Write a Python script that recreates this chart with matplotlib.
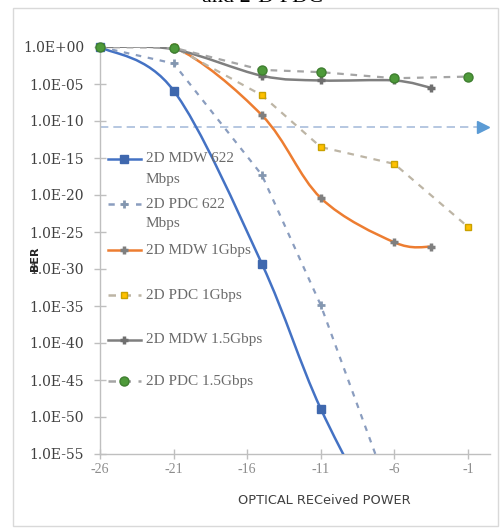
import numpy as np
import matplotlib
matplotlib.use('Agg')
import matplotlib.pyplot as plt
from matplotlib.path import Path
from matplotlib.patches import PathPatch, Rectangle
from matplotlib.lines import Line2D

# BER values (optical received power in dBm)
mdw622_x = [-26, -21, -15, -11, -6]
mdw622_y = [1e0, 1.3e-6, 5e-30, 1.3e-49, 1e-68]
pdc622_x = [-26, -21, -15, -11, -6]
pdc622_y = [1e0, 6e-3, 5e-18, 1.3e-35, 1e-62]
mdw1g_x = [-26, -21, -15, -11, -6, -3.5]
mdw1g_y = [1e0, 1e0, 6e-10, 4e-21, 4e-27, 1e-27]
pdc1g_x = [-26, -21, -15, -11, -6, -1]
pdc1g_y = [1e0, 1e0, 3e-7, 3e-14, 1.6e-16, 5e-25]
mdw15_x = [-26, -21, -15, -11, -6, -3.5]
mdw15_y = [1e0, 5e-1, 1.3e-4, 3e-5, 3e-5, 3e-6]
pdc15_x = [-26, -21, -15, -11, -6, -1]
pdc15_y = [1e0, 8e-1, 8e-4, 4e-4, 6e-5, 1e-4]
limit_x = [-26, 0]
limit_y = [1.6e-11, 1.6e-11]

ytick_vals = [1e0, 1e-5, 1e-10, 1e-15, 1e-20, 1e-25, 1e-30, 1e-35, 1e-40, 1e-45, 1e-50, 1e-55]
ytick_labels = ['1.0E+00', '1.0E-05', '1.0E-10', '1.0E-15', '1.0E-20', '1.0E-25',
                '1.0E-30', '1.0E-35', '1.0E-40', '1.0E-45', '1.0E-50', '1.0E-55']
xtick_vals = [-26, -21, -16, -11, -6, -1]
xtick_labels = ['-26', '-21', '-16', '-11', '-6', '-1']

W, H = 501, 529
YMIN, YMAX = 1e-55, 1e0


def fx(px):
    return px / W


def fy(py):
    return 1 - py / H


def smooth_path(xs, ys):
    # Excel-style smoothed line: Catmull-Rom Bezier in (x, log y) space
    pts = np.column_stack([np.asarray(xs, float), np.log10(ys)])
    n = len(pts)
    verts = [pts[0]]
    codes = [Path.MOVETO]
    for i in range(n - 1):
        p0 = pts[i - 1] if i > 0 else pts[i]
        p1, p2 = pts[i], pts[i + 1]
        p3 = pts[i + 2] if i + 2 < n else pts[i + 1]
        verts += [p1 + (p2 - p0) / 6, p2 - (p3 - p1) / 6, p2]
        codes += [Path.CURVE4] * 3
    verts = np.array(verts)
    verts[:, 1] = 10 ** verts[:, 1]
    return Path(verts, codes)


fig = plt.figure(figsize=(W / 100, H / 100), dpi=100)
fig.patch.set_facecolor('white')
fig.add_artist(Rectangle((fx(13), fy(526)), fx(485), 518 / H, transform=fig.transFigure,
                         fill=False, edgecolor='#D9D9D9', linewidth=1.0))

ax = fig.add_axes([fx(100), fy(454), fx(390), 407 / H])
ax.set_yscale('log')
ax.set_xlim(-26, 0.5)
ax.set_ylim(YMIN, YMAX)

series = [
    dict(x=mdw622_x, y=mdw622_y, color='#4472C4', ls='-', smooth=True,
         marker='s', mfc='#3F68AE', mec='#3F68AE', ms=5.5, mew=1, label='2D MDW 622\nMbps'),
    dict(x=pdc622_x, y=pdc622_y, color='#8A9DBF', ls=(0, (2.5, 3)), smooth=False,
         marker='+', mfc='#8497B0', mec='#8497B0', ms=6, mew=2, label='2D PDC 622\nMbps'),
    dict(x=mdw1g_x, y=mdw1g_y, color='#ED7D31', ls='-', smooth=True,
         marker='+', mfc='#7F7F7F', mec='#7F7F7F', ms=6, mew=2.5, label='2D MDW 1Gbps'),
    dict(x=pdc1g_x, y=pdc1g_y, color='#BDB5A5', ls=(0, (3, 3)), smooth=False,
         marker='s', mfc='#FFC000', mec='#C9A100', ms=5, mew=1, label='2D PDC 1Gbps'),
    dict(x=mdw15_x, y=mdw15_y, color='#7F7F7F', ls='-', smooth=True,
         marker='+', mfc='#6F6F6F', mec='#6F6F6F', ms=6, mew=2.5, label='2D MDW 1.5Gbps'),
    dict(x=pdc15_x, y=pdc15_y, color='#A5A5A5', ls=(0, (3, 3)), smooth=False,
         marker='o', mfc='#4E9A3A', mec='#3F7F30', ms=6.5, mew=1, label='2D PDC 1.5Gbps'),
]

# threshold line with arrow-head marker
ax.plot(limit_x, limit_y, color='#A9BEDB', lw=1.2, ls=(0, (5, 3)), zorder=2)
ax.plot(limit_x[-1:], limit_y[-1:], ls='none', marker='>', ms=8, color='#5B9BD5',
        clip_on=False, zorder=5)

for k, s in enumerate(series):
    if s['smooth']:
        ax.add_patch(PathPatch(smooth_path(s['x'], s['y']), fill=False, edgecolor=s['color'],
                               linewidth=1.8, transform=ax.transData, zorder=3 + k * 0.1))
    else:
        ax.plot(s['x'], s['y'], color=s['color'], ls=s['ls'], lw=1.6, zorder=3 + k * 0.1)
    # markers only for points inside the plotted range
    xs = np.asarray(s['x'], float)
    ys = np.asarray(s['y'], float)
    keep = ys >= YMIN
    ax.plot(xs[keep], ys[keep], ls='none', marker=s['marker'], ms=s['ms'], mfc=s['mfc'],
            mec=s['mec'], mew=s['mew'], zorder=4 + k * 0.1, clip_on=False)

# axes styling
for side in ['top', 'right']:
    ax.spines[side].set_visible(False)
for side in ['left', 'bottom']:
    ax.spines[side].set_color('#BFBFBF')
    ax.spines[side].set_linewidth(1.0)
ax.set_yticks(ytick_vals)
ax.set_yticklabels(ytick_labels, family='DejaVu Serif', fontsize=10, color='#404040')
ax.yaxis.set_minor_locator(matplotlib.ticker.NullLocator())
ax.set_xticks(xtick_vals)
ax.set_xticklabels(xtick_labels, family='Liberation Serif', fontsize=10, color='#8C8C8C')
ax.tick_params(axis='y', direction='inout', length=9, width=1, color='#BFBFBF', pad=7)
ax.tick_params(axis='x', direction='inout', length=7, width=1, color='#BFBFBF', pad=3)

# legend drawn by hand inside the plot area
leg_y = [159, 204, 250, 295, 340, 381]
for s, py in zip(series, leg_y):
    fig.add_artist(Line2D([fx(108), fx(141)], [fy(py), fy(py)], transform=fig.transFigure,
                          color=s['color'], ls=s['ls'], lw=1.8))
    fig.add_artist(Line2D([fx(124)], [fy(py)], transform=fig.transFigure, ls='none',
                          marker=s['marker'], ms=s['ms'], mfc=s['mfc'], mec=s['mec'], mew=s['mew']))
    for j, line in enumerate(s['label'].split('\n')):
        fig.text(fx(146), fy(py + 20 * j), line, ha='left', va='center',
                 family='Liberation Serif', fontsize=11, color='#6A6A6A')

fig.text(fx(324), fy(501), 'OPTICAL RECeived POWER', ha='center', va='center',
         family='DejaVu Sans', fontsize=9.3, color='#404040')
fig.text(fx(35), fy(259), 'BER', ha='center', va='center', rotation=90,
         family='DejaVu Sans', fontsize=8, fontweight='bold', color='#262626')
# caption above the chart, cut off by the top edge as in the source
fig.text(fx(262), fy(2), 'and 2-D PDC', ha='center', va='baseline',
         family='Liberation Serif', fontsize=16, color='#000000')

fig.savefig('out.png', dpi=100)
